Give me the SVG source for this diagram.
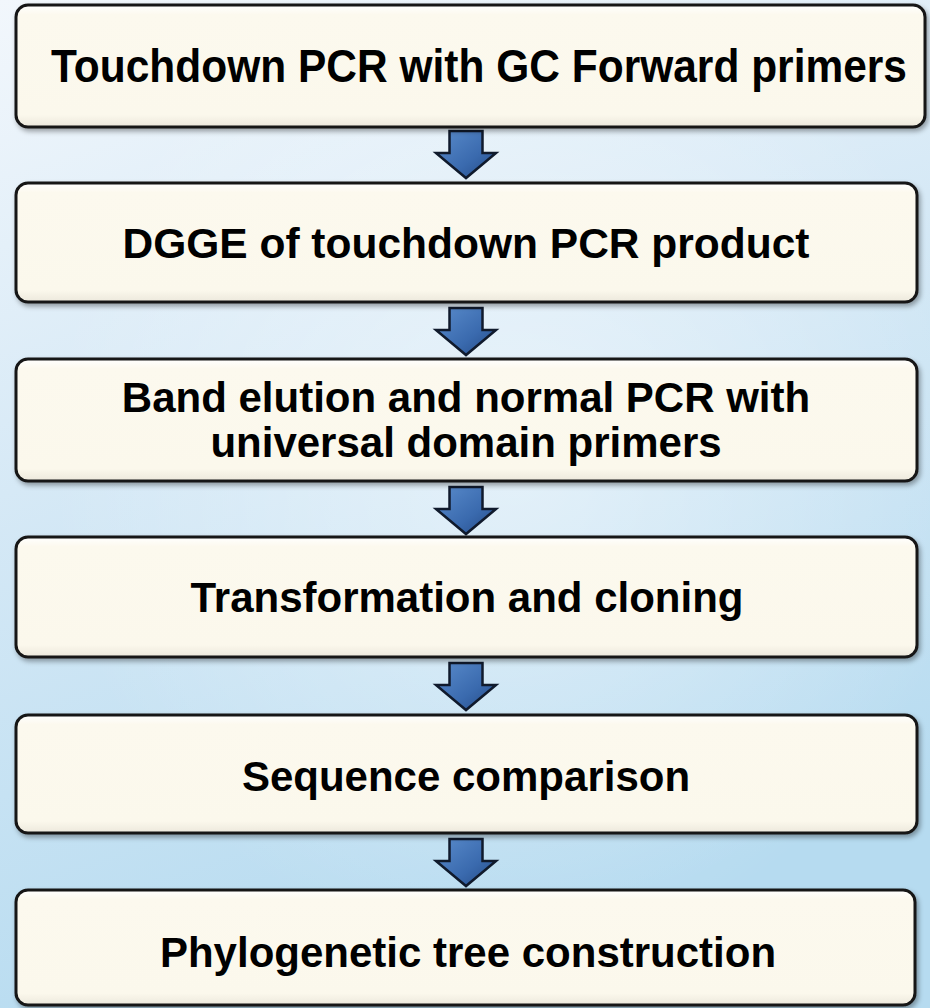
<svg xmlns="http://www.w3.org/2000/svg" width="930" height="1008" viewBox="0 0 930 1008">
<defs>
<linearGradient id="bg" x1="0" y1="0" x2="0.3" y2="1">
<stop offset="0" stop-color="#f2f7fc"/>
<stop offset="0.45" stop-color="#d6e9f6"/>
<stop offset="1" stop-color="#b6dbf0"/>
</linearGradient>
<radialGradient id="glow" cx="0.55" cy="0.45" r="0.5">
<stop offset="0" stop-color="#ffffff" stop-opacity="0.45"/>
<stop offset="1" stop-color="#ffffff" stop-opacity="0"/>
</radialGradient>
<linearGradient id="boxfill" x1="0" y1="0" x2="0" y2="1">
<stop offset="0" stop-color="#ffffff"/>
<stop offset="0.08" stop-color="#fcf9ee"/>
<stop offset="0.9" stop-color="#fbf8ec"/>
<stop offset="1" stop-color="#ece8dc"/>
</linearGradient>
<linearGradient id="arrowfill" x1="0" y1="0" x2="1" y2="1">
<stop offset="0" stop-color="#5a8ccc"/>
<stop offset="0.6" stop-color="#3a6aae"/>
<stop offset="1" stop-color="#244a86"/>
</linearGradient>
<filter id="sh" x="-5%" y="-10%" width="110%" height="130%">
<feDropShadow dx="2" dy="3" stdDeviation="2.5" flood-color="#000" flood-opacity="0.35"/>
</filter>
<path id="arr" d="M-16.5,0 H16.5 V22 H30 L0,47 L-30,22 H-16.5 Z"/>
</defs>
<style>
.box{fill:url(#boxfill);stroke:#141414;stroke-width:3;filter:url(#sh)}
.lbl{font-family:"Liberation Sans",Arial,sans-serif;font-weight:bold;font-size:42px;fill:#000;text-anchor:middle}
.l2{font-size:42.5px}
.arw{fill:url(#arrowfill);stroke:#101a2c;stroke-width:2.5;stroke-linejoin:miter}
</style>
<rect width="930" height="1008" fill="url(#bg)"/>
<rect width="930" height="1008" fill="url(#glow)"/>

<g id="connectors">
<use href="#arr" class="arw" x="466" y="131"/>
<use href="#arr" class="arw" x="466" y="308"/>
<use href="#arr" class="arw" x="466" y="487"/>
<use href="#arr" class="arw" x="466" y="663"/>
<use href="#arr" class="arw" x="466" y="839"/>
</g>

<g id="node1">
<rect class="box" x="16" y="5" width="909" height="122" rx="12"/>
<text class="lbl" x="479" y="76" transform="scale(1,1.08)" textLength="856" lengthAdjust="spacingAndGlyphs">Touchdown PCR with GC Forward primers</text>
</g>
<g id="node2">
<rect class="box" x="16" y="183" width="901" height="119" rx="12"/>
<text class="lbl l2" x="466" y="258">DGGE of touchdown PCR product</text>
</g>
<g id="node3">
<rect class="box" x="16" y="359" width="901" height="122" rx="12"/>
<text class="lbl" x="466" y="412">Band elution and normal PCR with</text>
<text class="lbl" x="466" y="457">universal domain primers</text>
</g>
<g id="node4">
<rect class="box" x="16" y="537" width="901" height="120" rx="12"/>
<text class="lbl" x="467" y="612">Transformation and cloning</text>
</g>
<g id="node5">
<rect class="box" x="16" y="715" width="901" height="118" rx="12"/>
<text class="lbl" x="466" y="791">Sequence comparison</text>
</g>
<g id="node6">
<rect class="box" x="16" y="890" width="899" height="115" rx="12"/>
<text class="lbl" x="468" y="967">Phylogenetic tree construction</text>
</g>
</svg>
